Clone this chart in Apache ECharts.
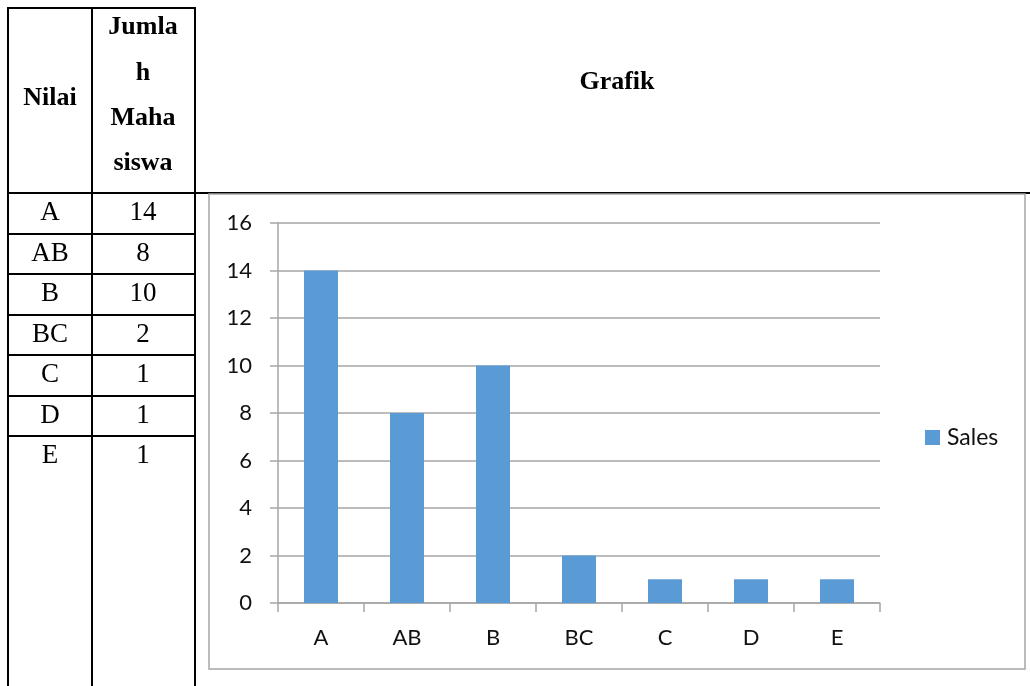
<!DOCTYPE html>
<html>
<head>
<meta charset="utf-8">
<script src="https://cdn.jsdelivr.net/npm/echarts@6/dist/echarts.min.js"></script>
<style>
html,body{margin:0;padding:0;background:#fff;}
#c{width:1030px;height:686px;}
</style>
</head>
<body>
<div id="c"></div>
<script>
const categories = ['A', 'AB', 'B', 'BC', 'C', 'D', 'E'];
const values = [14, 8, 10, 2, 1, 1, 1];
const seriesName = 'Sales';
const headerNilai = 'Nilai';
const headerJumlah = ['Jumla', 'h', 'Maha', 'siswa'];
const headerGrafik = 'Grafik';
const yMin = 0, yMax = 16, yInterval = 2;

const serif = '"Liberation Serif", "Times New Roman", serif';
const sans = 'Lato, "Open Sans", sans-serif';

const col1X = 50, col2X = 143;
const rowTop = 193, rowH = 40.5;
const graphics = [];
function line(x1, y1, x2, y2, stroke, w) {
  graphics.push({type: 'line', silent: true, shape: {x1, y1, x2, y2}, style: {stroke, lineWidth: w}});
}
line(8, 8, 196, 8, '#000', 2);
[8, 92, 195].forEach(x => line(x, 7, x, 686, '#000', 2));
line(7, rowTop, 1030, rowTop, '#000', 2);
for (let i = 1; i < categories.length; i++) {
  const y = Math.round(rowTop + rowH * i);
  line(7, y, 196, y, '#000', 2);
}
function text(t, x, y, font) {
  graphics.push({type: 'text', silent: true, style: {text: t, x, y, font, fill: '#000', align: 'center', verticalAlign: 'middle'}});
}
text(headerNilai, col1X, 98, 'bold 26px ' + serif);
const jy = [27, 73, 118, 163];
headerJumlah.forEach((t, i) => text(t, col2X, jy[i], 'bold 26px ' + serif));
text(headerGrafik, 617, 82, 'bold 26px ' + serif);
categories.forEach((c, i) => {
  const cy = rowTop + rowH * i + 20;
  text(c, col1X, cy, '27px ' + serif);
  text(String(values[i]), col2X, cy, '27px ' + serif);
});
graphics.push({type: 'rect', silent: true, shape: {x: 209, y: 194, width: 816, height: 475},
  style: {fill: 'none', stroke: '#a6a6a6', lineWidth: 1.5}});

const chart = echarts.init(document.getElementById('c'));
chart.setOption({
  animation: false,
  backgroundColor: '#fff',
  graphic: graphics,
  grid: {left: 278, right: 150, top: 223, bottom: 83, containLabel: false},
  legend: {
    data: [seriesName], orient: 'vertical', left: 920, top: 421,
    icon: 'rect', itemWidth: 15, itemHeight: 15,
    textStyle: {fontFamily: sans, fontSize: 23, color: '#111', padding: [0, 0, 0, 2]}
  },
  xAxis: {
    type: 'category', data: categories,
    axisLine: {lineStyle: {color: '#a6a6a6', width: 1.5}},
    axisTick: {show: true, length: 9, lineStyle: {color: '#a6a6a6', width: 1.5}},
    axisLabel: {fontFamily: sans, fontSize: 22, color: '#111', margin: 24}
  },
  yAxis: {
    type: 'value', min: yMin, max: yMax, interval: yInterval,
    axisLine: {show: true, lineStyle: {color: '#a6a6a6', width: 1.5}},
    axisTick: {show: true, length: 8, lineStyle: {color: '#a6a6a6', width: 1.5}},
    splitLine: {lineStyle: {color: '#a6a6a6', width: 1.5}},
    axisLabel: {fontFamily: sans, fontSize: 22, color: '#111', margin: 26}
  },
  series: [{
    name: seriesName, type: 'bar', data: values, barWidth: 34,
    itemStyle: {color: '#5b9bd5'}
  }]
});
</script>
</body>
</html>
